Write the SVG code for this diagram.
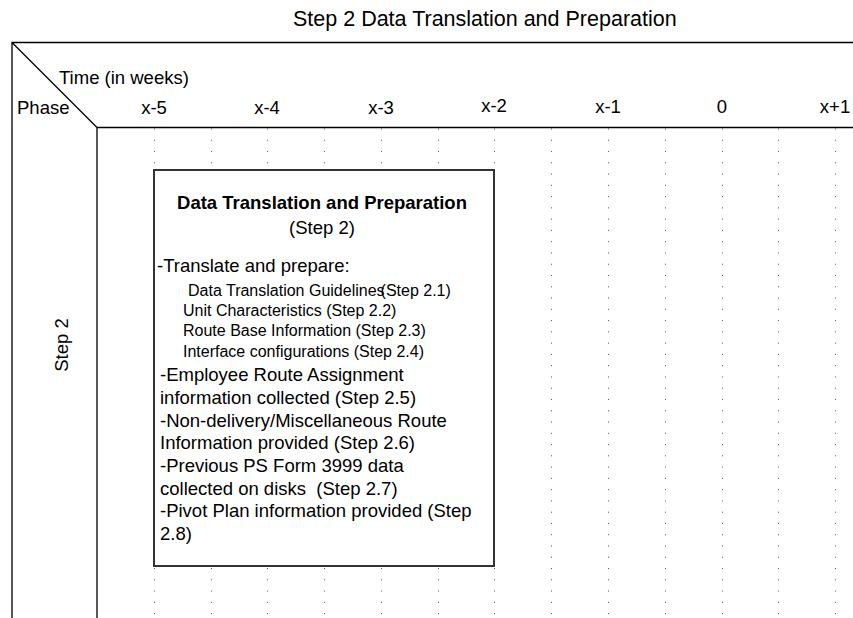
<svg xmlns="http://www.w3.org/2000/svg" width="853" height="618" viewBox="0 0 853 618">
<style>
text{font-family:"Liberation Sans",Arial,sans-serif;fill:#000}
.t{font-size:18.5px}
.h{font-size:21.5px}
.s{font-size:16px}
.b{font-size:18.5px;font-weight:bold}
.frame{stroke:#000;stroke-width:1.3;fill:none}
.dots{stroke:#555;stroke-width:1;stroke-dasharray:1 10.27;fill:none}
</style>
<rect width="853" height="618" fill="#fff"/>
<text class="h" x="293" y="26">Step 2 Data Translation and Preparation</text>
<g id="grid">
<path class="dots" d="M154.5 128.5V618M211.5 128.5V618M267.5 128.5V618M324.5 128.5V618M381.5 128.5V618M438.5 128.5V618M494.5 128.5V618M551.5 128.5V618M608.5 128.5V618M665.5 128.5V618M722.5 128.5V618M778.5 128.5V618M835.5 128.5V618"/>
</g>
<g id="frame">
<path class="frame" d="M12 618V42.5H853M12 42.5L97 127.5M97 618V127.5H853"/>
</g>
<g id="header">
<text class="t" x="59" y="84">Time (in weeks)</text>
<text class="t" x="17" y="114">Phase</text>
<text class="t" x="154" y="114" text-anchor="middle">x-5</text>
<text class="t" x="267" y="114" text-anchor="middle">x-4</text>
<text class="t" x="381" y="114" text-anchor="middle">x-3</text>
<text class="t" x="494" y="112" text-anchor="middle">x-2</text>
<text class="t" x="608" y="113" text-anchor="middle">x-1</text>
<text class="t" x="722" y="113" text-anchor="middle">0</text>
<text class="t" x="835" y="113" text-anchor="middle">x+1</text>
</g>
<g id="phase-step2">
<text class="t" x="0" y="0" text-anchor="middle" transform="translate(68 345) rotate(-90)">Step 2</text>
</g>
<g id="node-step2">
<rect x="154" y="170" width="340" height="396" fill="#fff" stroke="#333" stroke-width="2"/>
<text class="b" x="322" y="209" text-anchor="middle">Data Translation and Preparation</text>
<text class="t" x="322" y="234" text-anchor="middle">(Step 2)</text>
<text class="t" x="157" y="272">-Translate and prepare:</text>
<text class="s" x="188" y="296">Data Translation Guidelines<tspan dx="-4">(Step 2.1)</tspan></text>
<text class="s" x="183" y="316">Unit Characteristics (Step 2.2)</text>
<text class="s" x="183" y="336">Route Base Information (Step 2.3)</text>
<text class="s" x="183" y="357">Interface configurations (Step 2.4)</text>
<text class="t" x="160" y="380.5">-Employee Route Assignment</text>
<text class="t" x="160" y="403.5">information collected (Step 2.5)</text>
<text class="t" x="160" y="426.5">-Non-delivery/Miscellaneous Route</text>
<text class="t" x="160" y="449">Information provided (Step 2.6)</text>
<text class="t" x="160" y="471.5">-Previous PS Form 3999 data</text>
<text class="t" x="160" y="494.5" xml:space="preserve">collected on disks  (Step 2.7)</text>
<text class="t" x="160" y="517">-Pivot Plan information provided (Step</text>
<text class="t" x="160" y="540">2.8)</text>
</g>
<g id="connectors"/>
</svg>
